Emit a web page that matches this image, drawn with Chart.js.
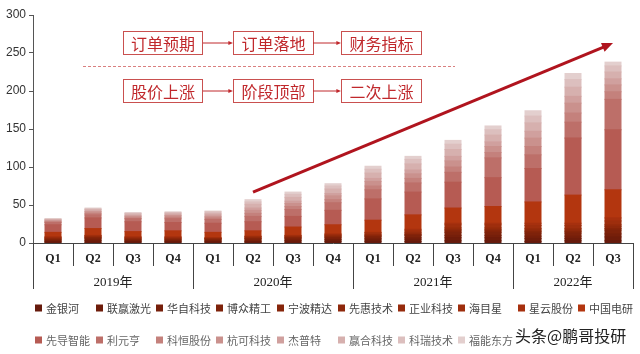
<!DOCTYPE html>
<html>
<head>
<meta charset="utf-8">
<script src="https://cdn.jsdelivr.net/npm/chart.js@4.4.0/dist/chart.umd.min.js"></script>
<style>
  html, body { margin: 0; padding: 0; background: #fff; }
  canvas { display: block; }
</style>
</head>
<body>
<canvas id="chart" width="640" height="354"></canvas>
<script>
// 季度 / 年份
var quarters = ["Q1", "Q2", "Q3", "Q4", "Q1", "Q2", "Q3", "Q4", "Q1", "Q2", "Q3", "Q4", "Q1", "Q2", "Q3"];
var years = ["2019年", "2020年", "2021年", "2022年"];
var yearSpans = [4, 4, 4, 3];
var yTicks = [0, 50, 100, 150, 200, 250, 300];

// 各公司（自下而上堆叠）
var companies = ["金银河", "联赢激光", "华自科技", "博众精工", "宁波精达", "先惠技术", "正业科技", "海目星", "星云股份",
  "中国电研", "先导智能", "利元亨", "科恒股份", "杭可科技", "杰普特", "赢合科技", "科瑞技术", "福能东方"];

var jinYinHe   = [1, 1, 1, 1, 1, 1, 1, 2, 2, 2, 3, 3, 2, 3, 3];
var lianYing   = [1, 2, 1, 1, 1, 1, 2, 2, 2, 3, 4, 4, 4, 3, 5];
var huaZi      = [1, 1, 1, 1, 1, 1, 1, 1, 2, 2, 3, 3, 3, 3, 4];
var boZhong    = [1, 2, 1, 1, 1, 2, 2, 2, 2, 3, 4, 4, 4, 4, 5];
var ningBo     = [1, 1, 1, 1, 1, 1, 1, 1, 1, 1, 2, 2, 2, 2, 2];
var xianHui    = [0.5, 0.5, 0.5, 0.5, 0.5, 0.5, 0.5, 1, 1, 1, 2, 2, 2, 2, 3];
var zhengYe    = [1, 1, 1, 1, 0.5, 1, 1, 1, 1, 2, 2, 2, 2, 2, 2];
var haiMuXing  = [1, 1, 1, 1, 0.5, 1, 1, 1, 2, 2, 4, 4, 4, 4, 5];
var xingYun    = [0.5, 0.5, 0.5, 0.5, 0.5, 0.5, 0.5, 1, 1, 2, 2, 2, 3, 3, 4];
var zhongGuo   = [6, 9, 7, 8, 7, 7, 11, 12, 16, 19, 20, 22, 28, 37, 37];
var xianDao    = [10, 14, 13, 11, 12, 12, 14, 19, 28, 30, 34, 38, 44, 75, 79];
var liYuanHeng = [3, 4, 4, 5, 5, 7, 9, 10, 12, 12, 13, 26, 18, 21, 40];
var keHeng     = [1, 2, 1, 2, 2, 4, 4, 4, 5, 6, 7, 7, 11, 12, 10];
var hangKe     = [1, 2, 2, 2, 2, 4, 4, 5, 6, 6, 8, 8, 11, 13, 9];
var jiePuTe    = [1, 1, 1, 1, 2, 3, 3, 3, 4, 5, 6, 6, 9, 9, 8];
var yingHe     = [1, 2, 2, 2, 2, 5, 5, 6, 7, 8, 9, 9, 11, 12, 9];
var keRui      = [0.5, 1, 1, 1, 2, 3, 4, 4, 5, 6, 7, 7, 9, 10, 8];
var fuNeng     = [0.5, 1, 1, 1, 1, 3, 3, 3, 4, 4, 5, 5, 7, 8, 5];

var seriesValues = [jinYinHe, lianYing, huaZi, boZhong, ningBo, xianHui, zhengYe, haiMuXing, xingYun,
  zhongGuo, xianDao, liYuanHeng, keHeng, hangKe, jiePuTe, yingHe, keRui, fuNeng];

var colors = ["#661a0c", "#6e1c0a", "#761f0a", "#7e220a", "#86250a", "#8e280b", "#962b0c", "#9e2e0d", "#a6300e",
  "#b3360f", "#b65b53", "#bd6f69", "#c4817c", "#ca918d", "#d0a09e", "#d6b0ae", "#dcbfbe", "#e3cfce"];

var legendCols = [35, 96, 156, 216, 277, 338, 398, 458, 518, 578];

var CJK = "'Noto Sans CJK SC', sans-serif";
var RED = "#c0282c";

var datasets = companies.map(function (name, i) {
  return {
    label: name,
    data: seriesValues[i],
    backgroundColor: colors[i],
    borderWidth: 0,
    inflateAmount: 0.5,
    barPercentage: 0.4,
    categoryPercentage: 1.0,
  };
});

function drawBox(ctx, x, y, w, h, text) {
  ctx.fillStyle = "#fff";
  ctx.fillRect(x, y, w, h);
  ctx.strokeStyle = "#c9504f";
  ctx.lineWidth = 1;
  ctx.strokeRect(x + 0.5, y + 0.5, w, h);
  ctx.fillStyle = RED;
  ctx.font = "16px " + CJK;
  ctx.textAlign = "center";
  ctx.textBaseline = "middle";
  ctx.fillText(text, x + w / 2 + 0.5, y + h / 2 + 1);
}

function drawArrow(ctx, x1, y1, x2, y2, width, head) {
  var ang = Math.atan2(y2 - y1, x2 - x1);
  ctx.lineWidth = width;
  ctx.beginPath();
  ctx.moveTo(x1, y1);
  ctx.lineTo(x2 - Math.cos(ang) * head * 0.8, y2 - Math.sin(ang) * head * 0.8);
  ctx.stroke();
  ctx.beginPath();
  ctx.moveTo(x2, y2);
  ctx.lineTo(x2 - head * Math.cos(ang - 0.4), y2 - head * Math.sin(ang - 0.4));
  ctx.lineTo(x2 - head * Math.cos(ang + 0.4), y2 - head * Math.sin(ang + 0.4));
  ctx.closePath();
  ctx.fill();
}

var extras = {
  id: "extras",
  afterDraw: function (chart) {
    var ctx = chart.ctx;
    var xs = chart.scales.x;
    var ys = chart.scales.y;
    var area = chart.chartArea;
    var step = xs.getPixelForValue(1) - xs.getPixelForValue(0);

    ctx.save();
    // 分类分隔线
    ctx.strokeStyle = "#444";
    ctx.lineWidth = 1;
    var idx = 0;
    var bounds = [0];
    yearSpans.forEach(function (n) { idx += n; bounds.push(idx); });
    for (var i = 0; i <= quarters.length; i++) {
      var x = Math.round(xs.getPixelForValue(i) - step / 2) + 0.5;
      var isYear = bounds.indexOf(i) >= 0;
      ctx.beginPath();
      ctx.moveTo(x, area.bottom);
      ctx.lineTo(x, area.bottom + (isYear ? 46 : 23));
      ctx.stroke();
    }
    // 年份标签
    ctx.fillStyle = "#222";
    ctx.font = "13px 'Liberation Serif', " + CJK;
    ctx.textAlign = "center";
    ctx.textBaseline = "middle";
    var start = 0;
    years.forEach(function (yl, k) {
      var a = xs.getPixelForValue(start) - step / 2;
      var b = xs.getPixelForValue(start + yearSpans[k] - 1) + step / 2;
      ctx.fillText(yl, (a + b) / 2, area.bottom + 40);
      start += yearSpans[k];
    });

    // 图例
    ctx.font = "11px " + CJK;
    ctx.textAlign = "left";
    chart.data.datasets.forEach(function (ds, i) {
      var row = i < 10 ? 0 : 1;
      var col = i < 10 ? i : i - 10;
      var lx = legendCols[col];
      var ly = row === 0 ? 308 : 340;
      ctx.fillStyle = ds.backgroundColor;
      ctx.fillRect(lx, ly - 3.5, 7, 7);
      ctx.fillStyle = row === 0 ? "#444" : "#666";
      ctx.fillText(ds.label, lx + 11, ly + 0.5);
    });

    // 注释框
    drawBox(ctx, 123, 31, 79, 23, "订单预期");
    drawBox(ctx, 233, 31, 80, 23, "订单落地");
    drawBox(ctx, 341, 31, 80, 23, "财务指标");
    drawBox(ctx, 123, 79, 79, 23, "股价上涨");
    drawBox(ctx, 233, 79, 80, 23, "阶段顶部");
    drawBox(ctx, 341, 79, 80, 23, "二次上涨");
    ctx.strokeStyle = RED;
    ctx.fillStyle = RED;
    drawArrow(ctx, 203, 43, 233, 43, 1, 5);
    drawArrow(ctx, 313, 43, 341, 43, 1, 5);
    drawArrow(ctx, 203, 91, 233, 91, 1, 5);
    drawArrow(ctx, 313, 91, 341, 91, 1, 5);

    // 虚线
    ctx.strokeStyle = "#d98080";
    ctx.lineWidth = 1;
    ctx.setLineDash([3, 2]);
    ctx.beginPath();
    ctx.moveTo(83, 66.5);
    ctx.lineTo(455, 66.5);
    ctx.stroke();
    ctx.setLineDash([]);

    // 趋势箭头
    ctx.strokeStyle = "#b0141e";
    ctx.fillStyle = "#b0141e";
    drawArrow(ctx, xs.getPixelForValue(5), ys.getPixelForValue(67),
      xs.getPixelForValue(14), ys.getPixelForValue(263), 3, 12);

    // 水印
    ctx.font = "16px " + CJK;
    ctx.textAlign = "left";
    ctx.textBaseline = "alphabetic";
    ctx.lineWidth = 3;
    ctx.strokeStyle = "rgba(255,255,255,0.9)";
    ctx.strokeText("头条@鹏哥投研", 515, 342);
    ctx.fillStyle = "#222";
    ctx.fillText("头条@鹏哥投研", 515, 342);
    ctx.restore();
  },
};

new Chart(document.getElementById("chart"), {
  type: "bar",
  data: { labels: quarters, datasets: datasets },
  plugins: [extras],
  options: {
    responsive: false,
    animation: false,
    devicePixelRatio: 1,
    layout: { padding: { top: 15, right: 7, left: 0, bottom: 0 } },
    plugins: { legend: { display: false }, tooltip: { enabled: false } },
    scales: {
      x: {
        stacked: true,
        grid: { display: false },
        border: { display: true, color: "#444", width: 1 },
        ticks: {
          color: "#222",
          font: { family: "'Liberation Serif', serif", size: 12, weight: "bold" },
          padding: 1,
          maxRotation: 0,
          autoSkip: false,
        },
        afterFit: function (scale) { scale.height = 111; },
      },
      y: {
        stacked: true,
        min: 0,
        max: 300,
        afterBuildTicks: function (scale) {
          scale.ticks = yTicks.map(function (v) { return { value: v }; });
        },
        grid: { drawOnChartArea: false, drawTicks: true, tickLength: 4, color: "#555" },
        border: { display: true, color: "#555", width: 1 },
        ticks: {
          color: "#333",
          font: { family: "'Liberation Sans', Arial, sans-serif", size: 12 },
          padding: 3,
        },
        afterFit: function (scale) { scale.width = 33; },
      },
    },
  },
});
</script>
</body>
</html>
